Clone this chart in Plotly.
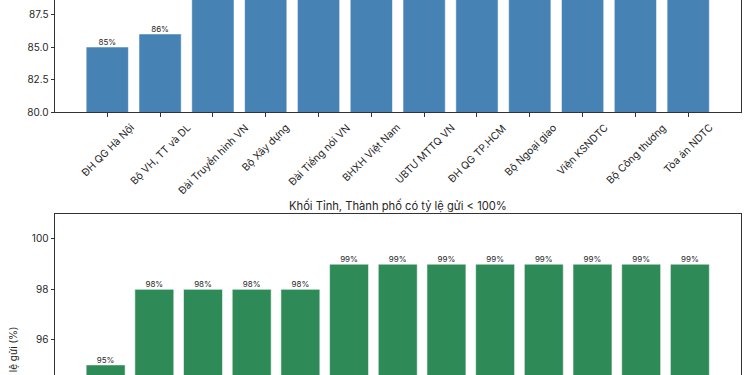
import plotly.graph_objects as go

# Top panel: ministries / central agencies
top_categories = ["ĐH QG Hà Nội", "Bộ VH, TT và DL", "Đài Truyền hình VN", "Bộ Xây dựng",
                  "Đài Tiếng nói VN", "BHXH Việt Nam", "UBTƯ MTTQ VN", "ĐH QG TP.HCM",
                  "Bộ Ngoại giao", "Viện KSNDTC", "Bộ Công thương", "Tòa án NDTC"]
top_values = [85, 86, 90, 91, 92, 93, 94, 95, 96, 97, 97, 98]

# Bottom panel: provinces / cities with rate < 100%
bottom_categories = ["Tỉnh 1", "Tỉnh 2", "Tỉnh 3", "Tỉnh 4", "Tỉnh 5", "Tỉnh 6", "Tỉnh 7",
                     "Tỉnh 8", "Tỉnh 9", "Tỉnh 10", "Tỉnh 11", "Tỉnh 12", "Tỉnh 13"]
bottom_values = [95, 98, 98, 98, 98, 99, 99, 99, 99, 99, 99, 99, 99]

top_yticks = [80.0, 82.5, 85.0, 87.5]
bottom_yticks = [96, 98, 100]

FONT = "Inter"
TXT = "#262626"

W, H = 750, 375
TOP_RANGE = [80, 88.6]
BOT_RANGE = [94.6, 100.98]


def px_y(p):
    return 1 - p / H


def visible_labels(values, rng):
    # labels of bars whose top lies beyond the visible range are cut off in the view
    return [f"{v:.0f}%" if v < rng[1] - 0.3 else "" for v in values]


fig = go.Figure()

fig.add_trace(go.Bar(x=top_categories, y=top_values, marker_color="#4682B4",
                     marker_line=dict(color="rgba(255,255,255,0.55)", width=1),
                     width=0.8, xaxis="x", yaxis="y", showlegend=False))
fig.add_trace(go.Scatter(x=top_categories, y=top_values, mode="text",
                         text=visible_labels(top_values, TOP_RANGE), textposition="top center",
                         textfont=dict(size=8, color=TXT, family=FONT),
                         xaxis="x", yaxis="y", showlegend=False, cliponaxis=True))

fig.add_trace(go.Bar(x=bottom_categories, y=bottom_values, marker_color="#2E8B57",
                     marker_line=dict(color="rgba(255,255,255,0.55)", width=1),
                     width=0.8, xaxis="x2", yaxis="y2", showlegend=False))
fig.add_trace(go.Scatter(x=bottom_categories, y=bottom_values, mode="text",
                         text=visible_labels(bottom_values, BOT_RANGE), textposition="top center",
                         textfont=dict(size=8, color=TXT, family=FONT),
                         xaxis="x2", yaxis="y2", showlegend=False, cliponaxis=True))

xdom = [55 / W, 740.5 / W]
line_common = dict(showgrid=False, zeroline=False, linecolor="#333", linewidth=1,
                   tickcolor="#333", ticklen=3.5, tickwidth=1, automargin=False)
tickfont = dict(size=10, color=TXT, family=FONT)

# category labels centred under their ticks, rotated 45 degrees
cat_labels = [dict(text=c, xref="x", yref="paper", x=c, y=px_y(118.5),
                   xanchor="center", yanchor="top", textangle=-45, showarrow=False,
                   font=dict(size=10.3, color=TXT, family=FONT))
              for c in top_categories]

fig.update_layout(
    width=W, height=H,
    margin=dict(l=0, r=0, t=0, b=0),
    plot_bgcolor="white", paper_bgcolor="white",
    font=dict(family=FONT, color=TXT),
    xaxis=dict(domain=xdom, anchor="y", range=[-0.99, 11.99], type="category",
               ticks="outside", showline=True, mirror=False, showticklabels=False,
               **line_common),
    yaxis=dict(domain=[px_y(112.3), 1], anchor="x", range=TOP_RANGE,
               tickvals=top_yticks, ticktext=[f"{t:.1f}" for t in top_yticks],
               ticks="outside", showline=True, mirror=True, tickfont=tickfont, **line_common),
    xaxis2=dict(domain=xdom, anchor="y2", range=[-1.04, 13.04], type="category",
                side="top", showline=True, mirror=False, ticks="", showticklabels=False,
                **line_common),
    yaxis2=dict(domain=[0, px_y(214.3)], anchor="x2", range=BOT_RANGE,
                tickvals=bottom_yticks, ticktext=[str(t) for t in bottom_yticks],
                ticks="outside", showline=True, mirror=True, tickfont=tickfont, **line_common),
    annotations=cat_labels + [
        dict(text="Khối Tỉnh, Thành phố có tỷ lệ gửi < 100%", xref="paper", yref="paper",
             x=398 / W, y=px_y(205), xanchor="center", yanchor="middle", showarrow=False,
             font=dict(size=11.2, color=TXT, family=FONT)),
        dict(text="Tỷ lệ gửi (%)", xref="paper", yref="paper", x=12.5 / W, y=px_y(325),
             xanchor="center", yanchor="top", textangle=-90, showarrow=False,
             font=dict(size=10, color=TXT, family=FONT)),
    ],
)

fig.write_html("out.html", config={"displayModeBar": False},
               post_script="document.body.style.margin='0';document.body.style.padding='0';")
